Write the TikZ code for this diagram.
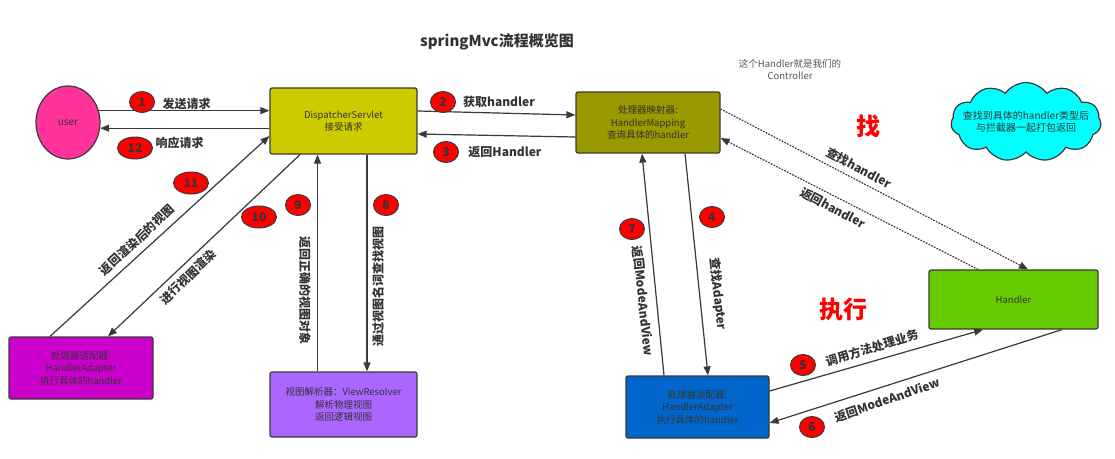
\documentclass[tikz,border=0pt]{standalone}
\usepackage{fontspec}
\setmainfont{Noto Sans CJK SC}
\usetikzlibrary{arrows.meta,shapes.geometric,shapes.symbols}
\definecolor{mvcLine}{HTML}{3A3A3A}
\definecolor{mvcText}{HTML}{333333}
\definecolor{mvcNote}{HTML}{555555}
\definecolor{userPink}{HTML}{FF3399}
\definecolor{dispYellow}{HTML}{CCCC00}
\definecolor{mapOlive}{HTML}{999900}
\definecolor{handGreen}{HTML}{66CC00}
\definecolor{adaBlue}{HTML}{0066CC}
\definecolor{adaMagenta}{HTML}{CC00CC}
\definecolor{viewPurple}{HTML}{AA66FF}
\definecolor{noteCyan}{HTML}{00FFFF}

\begin{document}
\begin{tikzpicture}[x=1pt, y=-1pt,
  box/.style={draw=mvcLine, line width=1.2pt, rounded corners=2pt, text=mvcText,
    align=center, inner sep=0pt, font=\fontsize{9.5}{12.5}\selectfont},
  badge/.style={ellipse, draw=mvcLine, line width=1pt, fill=red, text=mvcText,
    minimum width=25pt, minimum height=21pt, inner sep=0pt,
    font=\fontsize{12}{12}\selectfont\bfseries},
  wbadge/.style={badge, minimum width=35pt, minimum height=22pt},
  lbl/.style={text=mvcText, inner sep=0pt, font=\fontsize{12}{12}\selectfont\bfseries},
  big/.style={text=red, inner sep=0pt, font=\fontsize{24}{24}\selectfont\bfseries},
  arr/.style={-{Triangle[length=9pt,width=7pt]}, line width=1.2pt, draw=mvcLine, fill=mvcLine},
  dotarr/.style={arr, dash pattern=on 1.5pt off 1.5pt}
]
  \fill[white] (0,0) rectangle (1115,458);
  \useasboundingbox (0,0) rectangle (1115,458);

  \node[text=mvcText, font=\fontsize{15}{15}\selectfont\bfseries] (title) at (497,42) {springMvc流程概览图};
  \node[text=mvcNote, align=center, font=\fontsize{9.5}{12}\selectfont] (note) at (790,70) {这个Handler就是我们的\\Controller};

  % components
  \node[ellipse, draw=mvcLine, line width=1.2pt, fill=userPink, text=mvcText,
    minimum width=64pt, minimum height=73pt, font=\fontsize{10}{12}\selectfont] (user) at (68,122.5) {user};
  \node[box, fill=dispYellow, minimum width=147pt, minimum height=66pt] (ds) at (343.5,121) {DispatcherServlet\\接受请求};
  \node[box, fill=mapOlive, minimum width=144pt, minimum height=61pt] (hm) at (648,122.5) {处理器映射器:\\HandlerMapping\\查询具体的handler};
  \node[box, fill=handGreen, minimum width=169pt, minimum height=59pt] (handler) at (1013.5,299.5) {Handler};
  \node[box, fill=adaBlue, minimum width=143pt, minimum height=62pt] (hab) at (697.5,407) {处理器适配器:\\HandlerAdapter\\执行具体的handler};
  \node[box, fill=adaMagenta, minimum width=144pt, minimum height=62pt] (ham) at (81,368) {处理器适配器:\\HandlerAdapter\\执行具体的handler};
  \node[box, fill=viewPurple, minimum width=147pt, minimum height=65pt] (vr) at (343.5,404.5) {视图解析器：ViewResolver\\解析物理视图\\返回逻辑视图};
  \node[cloud, cloud puffs=11, cloud puff arc=110, cloud ignores aspect, draw=mvcLine, line width=1.2pt,
    fill=noteCyan, inner sep=0pt, minimum width=150pt, minimum height=79pt] (cloud) at (1026,122) {};
  \node[text=mvcText, align=center, inner sep=0pt, font=\fontsize{10}{12}\selectfont] (cloudtext) at (cloud.center) {查找到具体的handler类型后\\与拦截器一起打包返回};

  % connectors
  \draw[arr] (user.21) -- (user.21 -| ds.west);
  \draw[arr] ([yshift=10pt]ds.east) -- ([yshift=7.5pt]hm.west);
  \draw[arr] ([yshift=-14.5pt]hm.west) -- ([yshift=-13pt]ds.east);
  \draw[arr] ([xshift=37pt]hm.south) -- ([xshift=10.5pt]hab.north);
  \draw[arr] ([yshift=16pt]hab.east) -- ([xshift=-30.5pt]handler.south);
  \draw[arr] ([xshift=48.5pt]handler.south) -- ([yshift=-16pt]hab.east);
  \draw[arr] ([xshift=-33.5pt]hab.north) -- ([xshift=-6pt]hm.south);
  \draw[arr] ([xshift=23.5pt]ds.south) -- ([xshift=23.5pt]vr.north);
  \draw[arr] ([xshift=-26pt]vr.north) -- ([xshift=-26pt]ds.south);
  \draw[arr] ([xshift=-43.5pt]ds.south) -- ([xshift=27pt]ham.north);
  \draw[arr] ([xshift=-31pt]ham.north) -- ([yshift=-15pt]ds.west);
  \draw[arr] (user.-10 -| ds.west) -- (user.-10);
  \draw[dotarr] ([yshift=13.5pt]hm.east) -- ([xshift=14.5pt]handler.north);
  \draw[dotarr] ([xshift=-35.5pt]handler.north) -- ([yshift=-15.5pt]hm.east);

  % step numbers
  \node[badge] (b1) at (142,102) {1};
  \node[badge] (b2) at (443,102) {2};
  \node[badge] (b3) at (446,152) {3};
  \node[badge] (b4) at (712,217) {4};
  \node[badge] (b5) at (803,365) {5};
  \node[badge] (b6) at (812,427) {6};
  \node[badge] (b7) at (632,229) {7};
  \node[badge] (b8) at (386,205) {8};
  \node[badge] (b9) at (298,205) {9};
  \node[wbadge] (b10) at (259,217) {10};
  \node[wbadge] (b11) at (191,183) {11};
  \node[wbadge] (b12) at (135,148) {12};

  % connector labels
  \node[lbl] (l1) at (186.5,104) {发送请求};
  \node[lbl] (l2) at (499,102) {获取handler};
  \node[lbl] (l3) at (505,152) {返回Handler};
  \node[lbl, rotate=-84] (l4) at (718,294) {查找Adapter};
  \node[lbl, rotate=17] (l5) at (872,348) {调用方法处理业务};
  \node[lbl, rotate=19] (l6) at (887,400) {返回ModeAndView};
  \node[lbl, rotate=-84] (l7) at (643,301) {返回ModeAndView};
  \node[lbl, rotate=90] (l8) at (378,286) {通过视图名词查找视图};
  \node[lbl, rotate=-90] (l9) at (305,290) {返回正确的视图对象};
  \node[lbl, rotate=44] (l10) at (188,277) {进行视图渲染};
  \node[lbl, rotate=43] (l11) at (137,240) {返回渲染后的视图};
  \node[lbl] (l12) at (179.5,143) {响应请求};
  \node[lbl, rotate=-28] (lfind) at (859,168) {查找handler};
  \node[lbl, rotate=-28] (lback) at (833,208) {返回handler};

  \node[big] (zhao) at (868,126) {找};
  \node[big] (zhixing) at (843,309) {执行};
\end{tikzpicture}
\end{document}
